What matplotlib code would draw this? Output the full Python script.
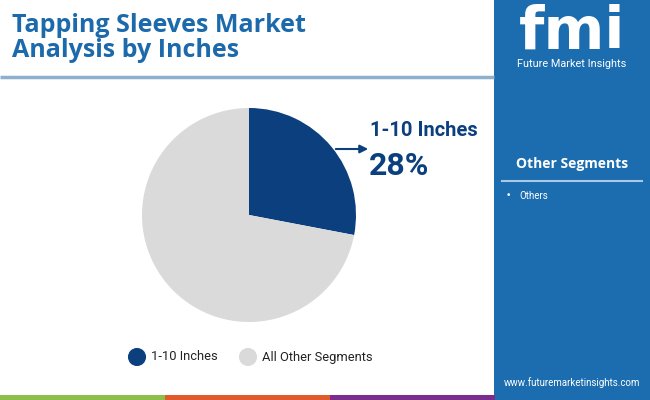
import matplotlib.pyplot as plt
import matplotlib.patches as patches

# -- Data --
segments = ["1-10 Inches", "All Other Segments"]
shares = [28, 72]
colors = ["#0b3f7e", "#dadada"]
callout_label = "1-10 Inches"
callout_value = "28%"
other_items = ["Others"]

TITLE = "Tapping Sleeves Market\nAnalysis by Inches"
W, H = 650, 400

fig = plt.figure(figsize=(6.5, 4), dpi=100)
fig.patch.set_facecolor("white")

# background canvas in pixel coordinates (y measured from top)
bg = fig.add_axes([0, 0, 1, 1])
bg.set_xlim(0, W)
bg.set_ylim(H, 0)
bg.axis("off")

# right side panel
bg.add_patch(patches.Rectangle((494, 0), W - 494, H, facecolor="#1b6db0", edgecolor="none"))
# title separator
bg.plot([0, 494], [77, 77], color="#8fb0cc", lw=2.5, solid_capstyle="butt")
# bottom colour bar
for x0, c in [(0, "#8cc04b"), (165, "#e05a2b"), (330, "#7b2d8e")]:
    bg.add_patch(patches.Rectangle((x0, 395), 165, 5, facecolor=c, edgecolor="none"))

# title
bg.text(12, 38, TITLE, color="#1c6aab", fontsize=18, fontweight="bold",
        family="Open Sans", va="center", ha="left", linespacing=0.98)

# logo approximation
bg.text(572, 32, "fmi", color="white", fontsize=42, fontweight="bold",
        family="DejaVu Sans", ha="center", va="center")
bg.text(572, 64, "Future Market Insights", color="white", fontsize=7.8,
        family="Roboto", ha="center", va="center")

# side panel content
bg.text(572, 164, "Other Segments", color="white", fontsize=10, fontweight="bold",
        family="Open Sans", ha="center", va="center")
bg.plot([502, 642], [181, 181], color="#a9c8e6", lw=1.5)
for i, item in enumerate(other_items):
    bg.text(506, 196 + i * 14, "\u2022", color="white", fontsize=6.5, ha="left", va="center")
    bg.text(519, 196 + i * 14, item, color="white", fontsize=7, family="Roboto",
            ha="left", va="center")
bg.text(572, 383, "www.futuremarketinsights.com", color="white", fontsize=7,
        family="Roboto", ha="center", va="center")

# legend
legend_x = [137, 248]
for lx, lab, c in zip(legend_x, segments, colors):
    bg.scatter([lx], [357], s=170, color=c, edgecolor="none")
    bg.text(lx + 14, 357, lab, fontsize=9.3, family="Roboto", color="#222222",
            ha="left", va="center")

# callout
bg.annotate("", xy=(371, 149), xytext=(333, 149),
            arrowprops=dict(arrowstyle="-|>", color=colors[0], lw=1.5, mutation_scale=12))
bg.text(370, 131, callout_label, color=colors[0], fontsize=14.5, fontweight="bold",
        family="Roboto", ha="left", va="center")
bg.text(369, 166, callout_value, color=colors[0], fontsize=23, fontweight="bold",
        family="Roboto", ha="left", va="center")

# pie: axes 250px wide, pie limits -1.25..1.25 => 100 px per unit
cx, cy = 249, 215
pie_ax = fig.add_axes([(cx - 125) / W, (H - cy - 125) / H, 250 / W, 250 / H])
pie_ax.pie(shares, colors=colors, startangle=90, counterclock=False, radius=1.07,
           wedgeprops=dict(edgecolor="none"))

fig.savefig("out.png", dpi=100)
